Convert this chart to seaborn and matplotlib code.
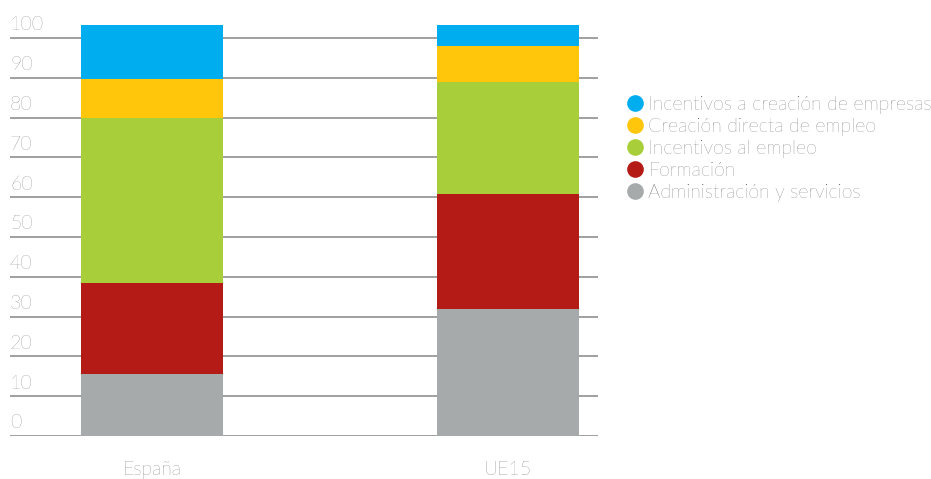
import matplotlib
matplotlib.use("Agg")
import matplotlib.pyplot as plt
from matplotlib.lines import Line2D
import seaborn as sns
import numpy as np

categories = ["España", "UE15"]
series = ["Administración y servicios", "Formación", "Incentivos al empleo",
          "Creación directa de empleo", "Incentivos a creación de empresas"]
administracion = [15.6, 31.9]
formacion = [22.8, 28.9]
incentivos_empleo = [41.5, 28.2]
creacion_directa = [9.8, 8.9]
incentivos_empresas = [13.6, 5.4]
colors = ["#A7AAAB", "#B41B17", "#A8CF3A", "#FFC60B", "#00AEEF"]
yticks = list(range(0, 101, 10))

sns.set_theme(style="white")
plt.rcParams['font.family'] = ['Lato', 'DejaVu Sans']

fig = plt.figure(figsize=(9.31, 4.79), dpi=100)
ax = fig.add_axes([10/931, 1-436/479, (598-10)/931, (436-20)/479])

values = [administracion, formacion, incentivos_empleo, creacion_directa, incentivos_empresas]
cum = np.cumsum(np.array(values), axis=0)
for i in range(len(series) - 1, -1, -1):
    sns.barplot(x=categories, y=cum[i], color=colors[i], width=0.397,
                saturation=1, ax=ax, zorder=3, linewidth=0)

ax.set_xlim(-0.399, 1.253)
ax.set_ylim(0, 104.5)
ax.set_yticks(yticks)
ax.yaxis.grid(True, color="#999999", linewidth=1.3)
ax.set_axisbelow(True)
for s in ax.spines.values():
    s.set_visible(False)
ax.tick_params(axis='y', left=False, labelleft=False)
ax.tick_params(axis='x', length=0, pad=18, labelsize=14, labelcolor="#444444")
for lab in ax.get_xticklabels():
    lab.set_fontweight('light')
for v in yticks:
    ax.annotate(str(v), xy=(0, v), xycoords=ax.get_yaxis_transform(),
                xytext=(0, 5.5), textcoords='offset points', ha='left', va='baseline',
                fontsize=14, color="#555555", fontweight='light')
ax.set_xlabel("")
ax.set_ylabel("")

handles = [Line2D([0], [0], marker='o', color='none', markerfacecolor=colors[i],
                  markeredgecolor='none', markersize=12) for i in range(len(series) - 1, -1, -1)]
labels = [series[i] for i in range(len(series) - 1, -1, -1)]
leg = fig.legend(handles, labels, loc='upper left', bbox_to_anchor=(628/931, 1-96/479),
                 frameon=False, borderpad=0, borderaxespad=0, handlelength=0.75,
                 handletextpad=0.3, labelspacing=0.2, prop={'size': 14, 'weight': 'light'},
                 labelcolor="#444444")

fig.savefig("out.png", dpi=100)
